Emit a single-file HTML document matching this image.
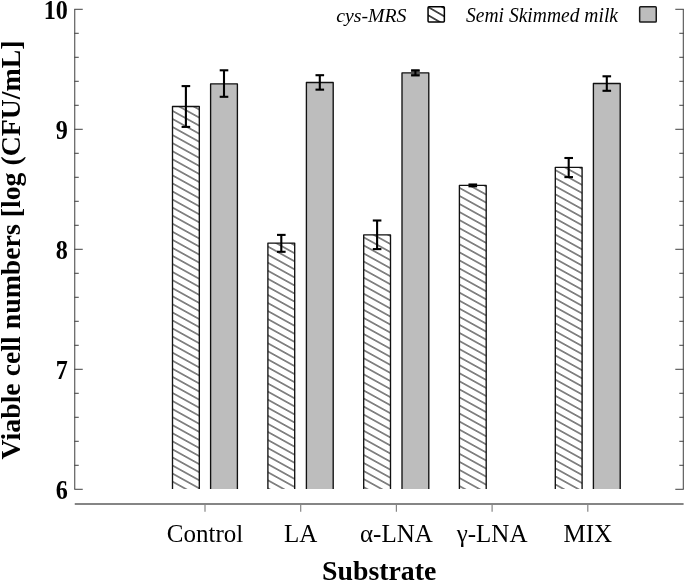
<!DOCTYPE html><html><head><meta charset="utf-8"><style>html,body{margin:0;padding:0;background:#fff;width:685px;height:582px;overflow:hidden}svg{display:block;will-change:transform}text{font-family:"Liberation Serif",serif}</style></head><body>
<svg width="685" height="582" viewBox="0 0 685 582">
<defs>
<pattern id="h0" patternUnits="userSpaceOnUse" width="40" height="7.049" patternTransform="translate(172.5,481.6) rotate(29.0) translate(0,-3.525)"><line x1="-5" y1="3.525" x2="45" y2="3.525" stroke="#000" stroke-width="1.0"/></pattern>
<pattern id="h1" patternUnits="userSpaceOnUse" width="40" height="7.049" patternTransform="translate(268.3,480.5) rotate(29.0) translate(0,-3.525)"><line x1="-5" y1="3.525" x2="45" y2="3.525" stroke="#000" stroke-width="1.0"/></pattern>
<pattern id="h2" patternUnits="userSpaceOnUse" width="40" height="7.049" patternTransform="translate(363.7,479.1) rotate(29.0) translate(0,-3.525)"><line x1="-5" y1="3.525" x2="45" y2="3.525" stroke="#000" stroke-width="1.0"/></pattern>
<pattern id="h3" patternUnits="userSpaceOnUse" width="40" height="7.049" patternTransform="translate(459.5,478.0) rotate(29.0) translate(0,-3.525)"><line x1="-5" y1="3.525" x2="45" y2="3.525" stroke="#000" stroke-width="1.0"/></pattern>
<pattern id="h4" patternUnits="userSpaceOnUse" width="40" height="7.049" patternTransform="translate(555.4,476.4) rotate(29.0) translate(0,-3.525)"><line x1="-5" y1="3.525" x2="45" y2="3.525" stroke="#000" stroke-width="1.0"/></pattern>
<pattern id="hl" patternUnits="userSpaceOnUse" width="40" height="7.1" patternTransform="translate(429.3,7.7) rotate(30) translate(0,-3.55)"><line x1="-5" y1="3.55" x2="45" y2="3.55" stroke="#000" stroke-width="1.2"/></pattern>
</defs>
<g stroke="#484848" stroke-width="1.05" fill="none">
<line x1="74.75" y1="9.3" x2="74.75" y2="489.0"/>
<line x1="683.3" y1="9.3" x2="683.3" y2="489.0"/>
<line x1="74.25" y1="9.30" x2="82.75" y2="9.30"/>
<line x1="683.8" y1="9.30" x2="675.3" y2="9.30"/>
<line x1="74.25" y1="33.30" x2="78.75" y2="33.30"/>
<line x1="683.8" y1="33.30" x2="679.3" y2="33.30"/>
<line x1="74.25" y1="57.30" x2="78.75" y2="57.30"/>
<line x1="683.8" y1="57.30" x2="679.3" y2="57.30"/>
<line x1="74.25" y1="81.30" x2="78.75" y2="81.30"/>
<line x1="683.8" y1="81.30" x2="679.3" y2="81.30"/>
<line x1="74.25" y1="105.30" x2="78.75" y2="105.30"/>
<line x1="683.8" y1="105.30" x2="679.3" y2="105.30"/>
<line x1="74.25" y1="129.30" x2="82.75" y2="129.30"/>
<line x1="683.8" y1="129.30" x2="675.3" y2="129.30"/>
<line x1="74.25" y1="153.30" x2="78.75" y2="153.30"/>
<line x1="683.8" y1="153.30" x2="679.3" y2="153.30"/>
<line x1="74.25" y1="177.30" x2="78.75" y2="177.30"/>
<line x1="683.8" y1="177.30" x2="679.3" y2="177.30"/>
<line x1="74.25" y1="201.30" x2="78.75" y2="201.30"/>
<line x1="683.8" y1="201.30" x2="679.3" y2="201.30"/>
<line x1="74.25" y1="225.30" x2="78.75" y2="225.30"/>
<line x1="683.8" y1="225.30" x2="679.3" y2="225.30"/>
<line x1="74.25" y1="249.30" x2="82.75" y2="249.30"/>
<line x1="683.8" y1="249.30" x2="675.3" y2="249.30"/>
<line x1="74.25" y1="273.30" x2="78.75" y2="273.30"/>
<line x1="683.8" y1="273.30" x2="679.3" y2="273.30"/>
<line x1="74.25" y1="297.30" x2="78.75" y2="297.30"/>
<line x1="683.8" y1="297.30" x2="679.3" y2="297.30"/>
<line x1="74.25" y1="321.30" x2="78.75" y2="321.30"/>
<line x1="683.8" y1="321.30" x2="679.3" y2="321.30"/>
<line x1="74.25" y1="345.30" x2="78.75" y2="345.30"/>
<line x1="683.8" y1="345.30" x2="679.3" y2="345.30"/>
<line x1="74.25" y1="369.30" x2="82.75" y2="369.30"/>
<line x1="683.8" y1="369.30" x2="675.3" y2="369.30"/>
<line x1="74.25" y1="393.30" x2="78.75" y2="393.30"/>
<line x1="683.8" y1="393.30" x2="679.3" y2="393.30"/>
<line x1="74.25" y1="417.30" x2="78.75" y2="417.30"/>
<line x1="683.8" y1="417.30" x2="679.3" y2="417.30"/>
<line x1="74.25" y1="441.30" x2="78.75" y2="441.30"/>
<line x1="683.8" y1="441.30" x2="679.3" y2="441.30"/>
<line x1="74.25" y1="465.30" x2="78.75" y2="465.30"/>
<line x1="683.8" y1="465.30" x2="679.3" y2="465.30"/>
<line x1="74.25" y1="489.30" x2="82.75" y2="489.30"/>
<line x1="683.8" y1="489.30" x2="675.3" y2="489.30"/>
</g>
<line x1="74.75" y1="504.0" x2="683.6" y2="504.0" stroke="#858585" stroke-width="1.9"/>
<line x1="205.0" y1="504.0" x2="205.0" y2="511.7" stroke="#858585" stroke-width="1.2"/>
<line x1="300.7" y1="504.0" x2="300.7" y2="511.7" stroke="#858585" stroke-width="1.2"/>
<line x1="396.4" y1="504.0" x2="396.4" y2="511.7" stroke="#858585" stroke-width="1.2"/>
<line x1="492.1" y1="504.0" x2="492.1" y2="511.7" stroke="#858585" stroke-width="1.2"/>
<line x1="587.8" y1="504.0" x2="587.8" y2="511.7" stroke="#858585" stroke-width="1.2"/>
<text transform="translate(67.9,18.90) scale(0.9,1)" text-anchor="end" font-weight="bold" font-size="26.8">10</text>
<text transform="translate(67.9,138.90) scale(0.9,1)" text-anchor="end" font-weight="bold" font-size="26.8">9</text>
<text transform="translate(67.9,258.90) scale(0.9,1)" text-anchor="end" font-weight="bold" font-size="26.8">8</text>
<text transform="translate(67.9,378.90) scale(0.9,1)" text-anchor="end" font-weight="bold" font-size="26.8">7</text>
<text transform="translate(67.9,498.90) scale(0.9,1)" text-anchor="end" font-weight="bold" font-size="26.8">6</text>
<rect x="172.5" y="106.5" width="26.8" height="382.5" fill="url(#h0)"/>
<path d="M172.5,489.0 V106.5 H199.30 V489.0" fill="none" stroke="#111" stroke-width="1.35" stroke-linejoin="round"/>
<rect x="267.9" y="243.1" width="26.8" height="245.9" fill="url(#h1)"/>
<path d="M267.9,489.0 V243.1 H294.70 V489.0" fill="none" stroke="#111" stroke-width="1.35" stroke-linejoin="round"/>
<rect x="363.7" y="234.9" width="26.8" height="254.1" fill="url(#h2)"/>
<path d="M363.7,489.0 V234.9 H390.50 V489.0" fill="none" stroke="#111" stroke-width="1.35" stroke-linejoin="round"/>
<rect x="459.4" y="185.4" width="26.8" height="303.6" fill="url(#h3)"/>
<path d="M459.4,489.0 V185.4 H486.20 V489.0" fill="none" stroke="#111" stroke-width="1.35" stroke-linejoin="round"/>
<rect x="555.3" y="167.3" width="26.8" height="321.7" fill="url(#h4)"/>
<path d="M555.3,489.0 V167.3 H582.10 V489.0" fill="none" stroke="#111" stroke-width="1.35" stroke-linejoin="round"/>
<rect x="210.6" y="83.8" width="26.8" height="405.2" fill="#bdbdbd"/>
<path d="M210.6,489.0 V83.8 H237.40 V489.0" fill="none" stroke="#111" stroke-width="1.35" stroke-linejoin="round"/>
<rect x="306.4" y="82.5" width="26.8" height="406.5" fill="#bdbdbd"/>
<path d="M306.4,489.0 V82.5 H333.20 V489.0" fill="none" stroke="#111" stroke-width="1.35" stroke-linejoin="round"/>
<rect x="402.0" y="72.9" width="26.8" height="416.1" fill="#bdbdbd"/>
<path d="M402.0,489.0 V72.9 H428.80 V489.0" fill="none" stroke="#111" stroke-width="1.35" stroke-linejoin="round"/>
<rect x="593.4" y="83.5" width="26.8" height="405.5" fill="#bdbdbd"/>
<path d="M593.4,489.0 V83.5 H620.20 V489.0" fill="none" stroke="#111" stroke-width="1.35" stroke-linejoin="round"/>
<g stroke="#000" stroke-width="2.1" fill="none"><line x1="185.9" y1="86.1" x2="185.9" y2="126.9"/><line x1="181.6" y1="86.1" x2="190.2" y2="86.1"/><line x1="181.6" y1="126.9" x2="190.2" y2="126.9"/></g>
<g stroke="#000" stroke-width="2.1" fill="none"><line x1="281.3" y1="234.9" x2="281.3" y2="251.8"/><line x1="277.0" y1="234.9" x2="285.6" y2="234.9"/><line x1="277.0" y1="251.8" x2="285.6" y2="251.8"/></g>
<g stroke="#000" stroke-width="2.1" fill="none"><line x1="377.1" y1="220.5" x2="377.1" y2="249.1"/><line x1="372.8" y1="220.5" x2="381.4" y2="220.5"/><line x1="372.8" y1="249.1" x2="381.4" y2="249.1"/></g>
<rect x="468.5" y="184.5" width="8.6" height="1.80" fill="#505050"/>
<g stroke="#000" stroke-width="2.1" fill="none"><line x1="472.8" y1="184.5" x2="472.8" y2="186.3"/><line x1="468.5" y1="184.5" x2="477.1" y2="184.5"/><line x1="468.5" y1="186.3" x2="477.1" y2="186.3"/></g>
<g stroke="#000" stroke-width="2.1" fill="none"><line x1="568.7" y1="158.0" x2="568.7" y2="177.1"/><line x1="564.4" y1="158.0" x2="573.0" y2="158.0"/><line x1="564.4" y1="177.1" x2="573.0" y2="177.1"/></g>
<g stroke="#000" stroke-width="2.1" fill="none"><line x1="224.0" y1="70.3" x2="224.0" y2="96.8"/><line x1="219.7" y1="70.3" x2="228.3" y2="70.3"/><line x1="219.7" y1="96.8" x2="228.3" y2="96.8"/></g>
<g stroke="#000" stroke-width="2.1" fill="none"><line x1="319.8" y1="75.2" x2="319.8" y2="89.65"/><line x1="315.5" y1="75.2" x2="324.1" y2="75.2"/><line x1="315.5" y1="89.65" x2="324.1" y2="89.65"/></g>
<rect x="411.1" y="70.3" width="8.6" height="5.10" fill="#505050"/>
<g stroke="#000" stroke-width="2.1" fill="none"><line x1="415.4" y1="70.3" x2="415.4" y2="75.4"/><line x1="411.1" y1="70.3" x2="419.7" y2="70.3"/><line x1="411.1" y1="75.4" x2="419.7" y2="75.4"/></g>
<g stroke="#000" stroke-width="2.1" fill="none"><line x1="606.8" y1="76.3" x2="606.8" y2="90.8"/><line x1="602.5" y1="76.3" x2="611.1" y2="76.3"/><line x1="602.5" y1="90.8" x2="611.1" y2="90.8"/></g>
<text x="205.0" y="542.4" text-anchor="middle" font-size="25">Control</text>
<text x="300.7" y="542.4" text-anchor="middle" font-size="25">LA</text>
<text x="396.4" y="542.4" text-anchor="middle" font-size="25">&#945;-LNA</text>
<text x="492.1" y="542.4" text-anchor="middle" font-size="25">&#947;-LNA</text>
<text x="587.8" y="542.4" text-anchor="middle" font-size="25">MIX</text>
<text x="379.2" y="580.2" text-anchor="middle" font-weight="bold" font-size="27.8">Substrate</text>
<text transform="translate(19.8,250.0) rotate(-90)" text-anchor="middle" font-weight="bold" font-size="27.8">Viable cell numbers [log (CFU/mL]</text>
<text x="406.5" y="22.4" text-anchor="end" font-style="italic" font-size="19.8">cys-MRS</text>
<rect x="428.05" y="6.85" width="16.3" height="15.1" rx="0.9" fill="url(#hl)" stroke="#000" stroke-width="1.5"/>
<text x="618.0" y="22.0" text-anchor="end" font-style="italic" font-size="19.9" textLength="152.0" lengthAdjust="spacingAndGlyphs">Semi Skimmed milk</text>
<rect x="639.65" y="6.85" width="16.6" height="15.2" rx="0.9" fill="#bdbdbd" stroke="#1a1a1a" stroke-width="1.5"/>
</svg></body></html>
